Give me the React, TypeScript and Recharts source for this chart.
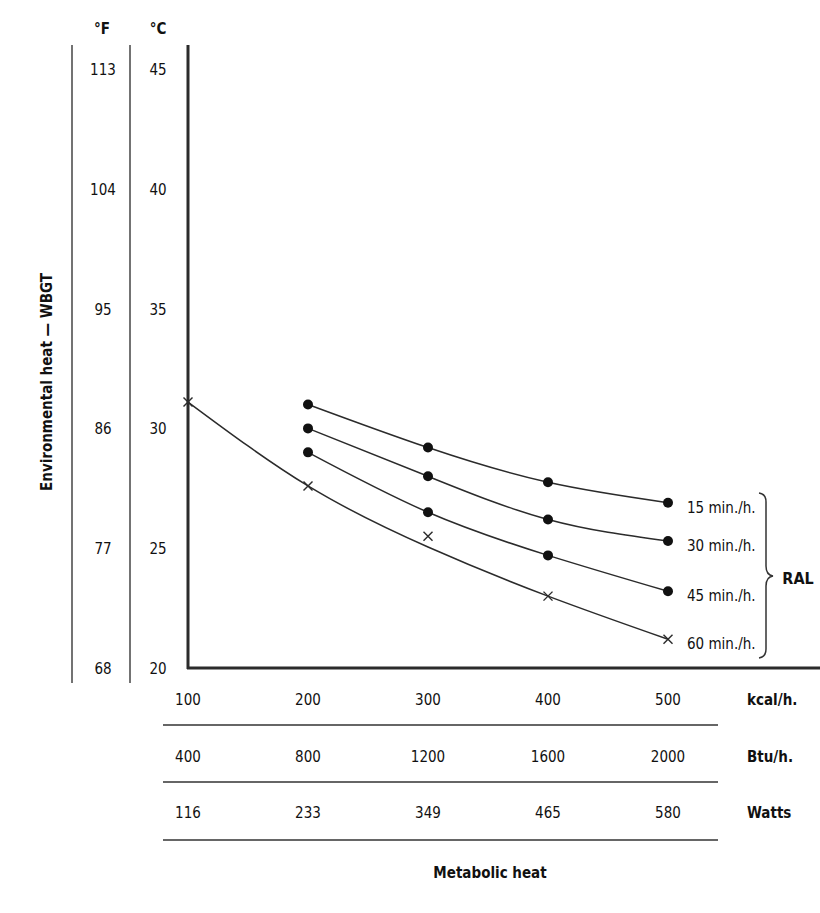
import React from 'react';
import { LineChart, Line, XAxis, YAxis } from 'recharts';

// metabolic heat columns
const kcalTicks = [100, 200, 300, 400, 500];
const btuLabels = ['400', '800', '1200', '1600', '2000'];
const wattLabels = ['116', '233', '349', '465', '580'];

// environmental heat scales
const celsiusTicks = [20, 25, 30, 35, 40, 45];
const fahrenheitTicks = [68, 77, 86, 95, 104, 113];

// RAL curves (°C WBGT)
const kcalShort = [200, 300, 400, 500];
const kcalLong = [100, 200, 300, 400, 500];
const ral15 = [31.0, 29.2, 27.75, 26.9];
const ral30 = [30.0, 28.0, 26.2, 25.3];
const ral45 = [29.0, 26.5, 24.7, 23.2];
const ral60 = [31.1, 27.6, 25.5, 23.0, 21.2]; // measured points (x marks)
const ral60Curve = [31.1, 27.6, 25.05, 23.0, 21.2]; // smoothed curve drawn through them
const seriesNames = ['15 min./h.', '30 min./h.', '45 min./h.', '60 min./h.'];

const FONT = '"DejaVu Sans Condensed", "Liberation Sans Narrow", "DejaVu Sans", sans-serif';
const INK = '#2b2b2b';

const toPoints = (xs: number[], ys: number[]) => xs.map((x, i) => ({ x, y: ys[i] }));

const series = [
  { name: seriesNames[0], data: toPoints(kcalShort, ral15), cross: false },
  { name: seriesNames[1], data: toPoints(kcalShort, ral30), cross: false },
  { name: seriesNames[2], data: toPoints(kcalShort, ral45), cross: false },
];

const makeDot = (name: string, cross: boolean, last: number) => (props: any) => {
  const { cx, cy, index } = props;
  if (cx == null || cy == null) return <g key={`${name}-${index}`} />;
  return (
    <g key={`${name}-${index}`}>
      {cross ? (
        <g stroke={INK} strokeWidth={1.4}>
          <line x1={cx - 4.5} y1={cy - 4.5} x2={cx + 4.5} y2={cy + 4.5} />
          <line x1={cx - 4.5} y1={cy + 4.5} x2={cx + 4.5} y2={cy - 4.5} />
        </g>
      ) : (
        <circle cx={cx} cy={cy} r={5} fill="#111" />
      )}
      {index === last && (
        <text x={cx + 19} y={cy + 5} dominantBaseline="central" fontSize={15} fill="#111" fontFamily={FONT}>
          {name}
        </text>
      )}
    </g>
  );
};

// one tick per °C value, with the matching °F label in the outer column
const TemperatureTick = (props: any) => {
  const { x, y, payload } = props;
  const i = celsiusTicks.indexOf(payload.value);
  const style = { fontSize: 15, fill: '#111', fontFamily: FONT };
  return (
    <g>
      <text x={x - 30} y={y + 1} textAnchor="middle" dominantBaseline="central" {...style}>
        {payload.value}
      </text>
      <text x={x - 85} y={y + 1} textAnchor="middle" dominantBaseline="central" {...style}>
        {fahrenheitTicks[i]}
      </text>
    </g>
  );
};

const MetabolicTick = (props: any) => {
  const { x, y, payload } = props;
  const i = kcalTicks.indexOf(payload.value);
  const style = { fontSize: 15, fill: '#111', fontFamily: FONT };
  return (
    <g>
      <text x={x} y={y + 32} textAnchor="middle" dominantBaseline="central" {...style}>{payload.value}</text>
      <text x={x} y={y + 89} textAnchor="middle" dominantBaseline="central" {...style}>{btuLabels[i]}</text>
      <text x={x} y={y + 145} textAnchor="middle" dominantBaseline="central" {...style}>{wattLabels[i]}</text>
    </g>
  );
};

const Decorations = () => {
  const bold = { fontFamily: FONT, fontWeight: 700, fill: '#111' } as const;
  return (
    <svg width={820} height={913} style={{ position: 'absolute', left: 0, top: 0, pointerEvents: 'none' }}>
      <line x1={72} y1={45} x2={72} y2={683} stroke="#444" strokeWidth={1.5} />
      <line x1={130} y1={45} x2={130} y2={683} stroke="#444" strokeWidth={1.5} />
      <line x1={188} y1={45} x2={188} y2={669} stroke={INK} strokeWidth={3} />
      <line x1={187} y1={668} x2={820} y2={668} stroke={INK} strokeWidth={3} />
      <text x={102} y={29} textAnchor="middle" dominantBaseline="central" fontSize={15} {...bold}>°F</text>
      <text x={158} y={29} textAnchor="middle" dominantBaseline="central" fontSize={15} {...bold}>°C</text>
      <text x={47} y={382} textAnchor="middle" dominantBaseline="central" fontSize={15} transform="rotate(-90 47 382)" {...bold}>
        Environmental heat — WBGT
      </text>
      {[725, 782, 840].map((y) => (
        <line key={y} x1={163} y1={y} x2={718} y2={y} stroke="#333" strokeWidth={1.5} />
      ))}
      <text x={747} y={700} dominantBaseline="central" fontSize={15} {...bold}>kcal/h.</text>
      <text x={747} y={757} dominantBaseline="central" fontSize={15} {...bold}>Btu/h.</text>
      <text x={747} y={813} dominantBaseline="central" fontSize={15} {...bold}>Watts</text>
      <text x={490} y={873} textAnchor="middle" dominantBaseline="central" fontSize={15} {...bold}>Metabolic heat</text>
      <path
        d="M759 493 Q766 494 766 502 L766 566 Q766 575 773 576 Q766 577 766 586 L766 649 Q766 657 759 658"
        fill="none"
        stroke="#333"
        strokeWidth={1.5}
      />
      <text x={798} y={578} textAnchor="middle" dominantBaseline="central" fontSize={16} {...bold}>RAL</text>
    </svg>
  );
};

export default function App() {
  const curve60 = toPoints(kcalLong, ral60Curve);
  const marks60 = toPoints(kcalLong, ral60);
  return (
    <div style={{ position: 'absolute', left: 0, top: 0, width: 820, height: 913, background: '#fff' }}>
      <LineChart width={820} height={913} margin={{ top: 69, right: 152, bottom: 215, left: 130 }}>
        <XAxis
          dataKey="x"
          type="number"
          domain={[100, 500]}
          ticks={kcalTicks}
          height={30}
          axisLine={false}
          tickLine={false}
          tickSize={0}
          tickMargin={0}
          tick={<MetabolicTick />}
          allowDuplicatedCategory={false}
        />
        <YAxis
          type="number"
          domain={[20, 45]}
          ticks={celsiusTicks}
          width={58}
          axisLine={false}
          tickLine={false}
          tickSize={0}
          tickMargin={0}
          tick={<TemperatureTick />}
        />
        {series.map((s) => (
          <Line
            key={s.name}
            data={s.data}
            dataKey="y"
            type="natural"
            stroke={INK}
            strokeWidth={1.5}
            dot={makeDot(s.name, s.cross, s.data.length - 1)}
            activeDot={false}
            isAnimationActive={false}
          />
        ))}
        <Line
          data={curve60}
          dataKey="y"
          type="natural"
          stroke={INK}
          strokeWidth={1.5}
          dot={false}
          activeDot={false}
          isAnimationActive={false}
        />
        <Line
          data={marks60}
          dataKey="y"
          stroke="none"
          dot={makeDot(seriesNames[3], true, marks60.length - 1)}
          activeDot={false}
          isAnimationActive={false}
        />
      </LineChart>
      <Decorations />
    </div>
  );
}
